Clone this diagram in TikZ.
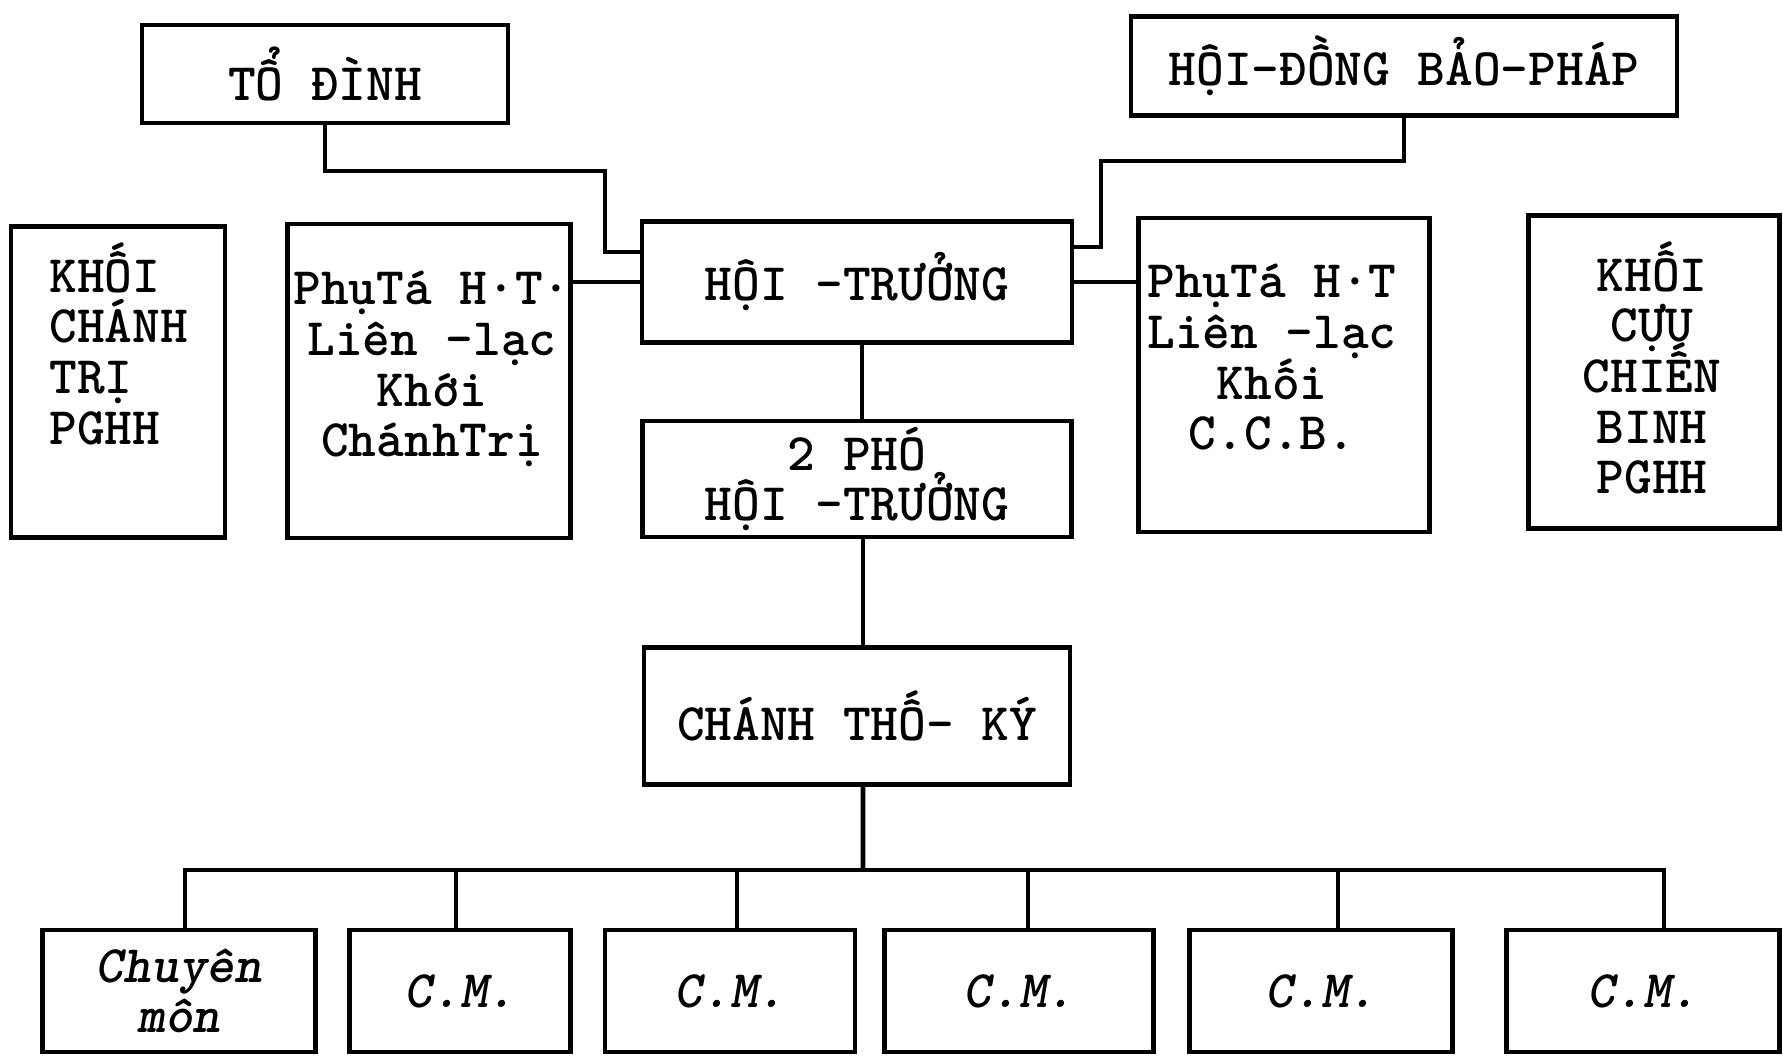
\documentclass[tikz,border=0pt]{standalone}
\usepackage{fontspec}
\usetikzlibrary{positioning}
\newcommand{\orgfont}{\ttfamily\bfseries\fontsize{15}{14.4}\selectfont\setlength{\lineskiplimit}{-20pt}}
\newcommand{\cmfont}{\ttfamily\bfseries\itshape\fontsize{15}{14.4}\selectfont}
\tikzset{
    every node/.style={
        font=\orgfont
    },
    box/.style 2 args={
        draw,
        line width=1.3pt,
        inner sep=0pt,
        minimum width=#1,
        minimum height=#2
    },
    cmtext/.style={
        font=\cmfont
    },
    link/.style={
        line width=1.3pt
    }
}

\begin{document}
\begin{tikzpicture}[
    x=0.01cm,
    y=-0.01cm
]
    \useasboundingbox (0,0) rectangle (1783,1057);

    % Cajas superiores
    \node[box={3.66cm}{0.98cm}] (todinh)  at (325,74)   {TỔ ĐÌNH};
    \node[box={5.46cm}{0.99cm}] (baophap) at (1404,66)  {HỘI-ĐỒNG BẢO-PHÁP};

    % Fila central
    \node[box={2.14cm}{3.11cm}] (khoict)    at (118,382)  {};
    \node[box={2.83cm}{3.14cm}] (phutatrai) at (429,381)  {};
    \node[box={4.30cm}{1.21cm}] (hoitruong) at (857,282)  {HỘI –TRƯỞNG};
    \node[box={2.91cm}{3.14cm}] (phutaphai) at (1284,375) {};
    \node[box={2.51cm}{3.13cm}] (khoiccb)   at (1654,372) {};

    % Textos de las cajas altas
    \node[anchor=north west, align=left]
        (khoict-txt)    at (37,230)   {KHỐI\\CHÁNH\\TRỊ\\PGHH};
    \node[anchor=north, align=center]
        (phutatrai-txt) at (432,259)  {PhụTá H·T·\\Liên -lạc\\Khới\\ChánhTrị};
    \node[anchor=north, align=center]
        (phutaphai-txt) at (1272,252) {PhụTá H·T\\Liên –lạc\\Khối\\C.C.B.};
    \node[anchor=north, align=center]
        (khoiccb-txt)   at (1652,229) {KHỐI\\CỰU\\CHIẾN\\BINH\\PGHH};

    % Eje vertical
    \node[box={4.29cm}{1.16cm}, align=center] (phoht) at (857,479) {2 PHÓ\\HỘI –TRƯỞNG};
    \node[box={4.26cm}{1.37cm}] (thoky) at (857,716) {CHÁNH THỐ- KÝ};

    % Chuyen mon
    \node[box={2.73cm}{1.22cm}, cmtext, align=center] (cm1) at (179,991)  {Chuyên\\môn};
    \node[box={2.21cm}{1.22cm}, cmtext] (cm2) at (460,991)  {C.M.};
    \node[box={2.50cm}{1.22cm}, cmtext] (cm3) at (730,991)  {C.M.};
    \node[box={2.69cm}{1.22cm}, cmtext] (cm4) at (1019,991) {C.M.};
    \node[box={2.63cm}{1.22cm}, cmtext] (cm5) at (1321,991) {C.M.};
    \node[box={2.73cm}{1.22cm}, cmtext] (cm6) at (1643,991) {C.M.};

    % Puntos de quiebre
    \coordinate (tdknee) at (605,171);
    \coordinate (bpknee) at (1101,161);
    \coordinate (bus)    at (863,870);

    % Conexiones
    \draw[link] (todinh.south) |- (tdknee) |- ([yshift=3mm]hoitruong.west);
    \draw[link] (baophap.south) |- (bpknee) |- ([yshift=3.5mm]hoitruong.east);
    \draw[link] (hoitruong.west) -- (hoitruong.west -| phutatrai.east);
    \draw[link] (hoitruong.east) -- (hoitruong.east -| phutaphai.west);
    \draw[link] ([xshift=0.5mm]hoitruong.south) -- ([xshift=0.5mm]phoht.north);
    \draw[link] ([xshift=0.6mm]phoht.south) -- ([xshift=0.6mm]thoky.north);
    \draw[link] ([xshift=0.6mm]thoky.south) -- (bus);
    \foreach \cm/\dx in {cm1/0.6mm,cm2/-0.4mm,cm3/0.7mm,cm4/0.9mm,cm5/1.7mm,cm6/2.1mm}
        \draw[link] (bus) -| ([xshift=\dx]\cm.north);

\end{tikzpicture}
\end{document}
